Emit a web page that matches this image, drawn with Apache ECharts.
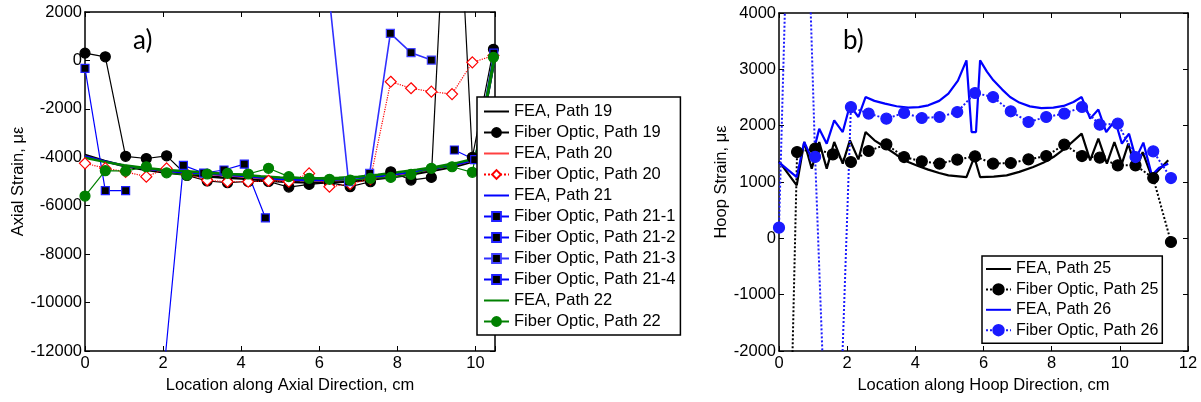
<!DOCTYPE html>
<html><head><meta charset="utf-8">
<script src="https://cdn.jsdelivr.net/npm/echarts@6/dist/echarts.min.js"></script>
<style>html,body{margin:0;padding:0;background:#fff;}#c{width:1201px;height:402px;}</style>
</head><body><div id="c"></div>
<script>
// ---------- Left chart (a) data ----------
const feaX = [0,0.5,1,1.5,2,2.5,3,3.5,4,4.5,5,5.5,6,6.5,7,7.5,8,8.5,9,9.5,10,10.5];
const fea19Y = [-3900,-4150,-4360,-4510,-4620,-4700,-4770,-4830,-4880,-4940,-5000,-5030,-5040,-5020,-4970,-4890,-4790,-4670,-4530,-4370,-4150,150];
const fea20Y = [-3950,-4180,-4350,-4480,-4580,-4650,-4710,-4760,-4810,-4880,-4940,-4970,-4980,-4960,-4910,-4830,-4730,-4610,-4480,-4330,-4120,150];
const fea21Y = [-3960,-4170,-4340,-4460,-4550,-4620,-4670,-4720,-4770,-4840,-4900,-4930,-4940,-4920,-4870,-4790,-4690,-4580,-4450,-4300,-4100,150];
const fea22Y = [-4020,-4190,-4330,-4430,-4510,-4570,-4620,-4670,-4720,-4780,-4830,-4860,-4870,-4850,-4800,-4720,-4620,-4510,-4390,-4240,-4050,150];

const foX = [0,0.52,1.04,1.57,2.09,2.61,3.13,3.65,4.18,4.7,5.22,5.74,6.26,6.79,7.31,7.83,8.35,8.87,9.4,9.92,10.46];
const fo19Y = [300,150,-3960,-4050,-3940,-4750,-4980,-5050,-5000,-5000,-5230,-5120,-5050,-5215,-5010,-4600,-4940,-4830,12300,-4000,460];
const fo20Y = [-4250,-4450,-4600,-4800,-4460,-4700,-4950,-5010,-5010,-4970,-5010,-4665,-5215,-5100,-4900,-880,-1150,-1290,-1390,-80,200];
const fo22Y = [-5600,-4555,-4570,-4390,-4640,-4735,-4690,-4665,-4690,-4455,-4800,-4870,-4910,-4940,-4870,-4830,-4705,-4455,-4390,-4620,128];

const fo21aX = [0,0.52,1.04];
const fo21aY = [-330,-5380,-5380];
const fo21bX = [2.0,2.52,3.04,3.56,4.08,4.62];
const fo21bY = [-13200,-4335,-4650,-4525,-4280,-6500];
const fo21cX = [6.23,6.75,7.29,7.82,8.35,8.87];
const fo21cY = [3000,-5010,-4665,1120,320,15];
const fo21dX = [9.46,9.98,10.47];
const fo21dY = [-3700,-4100,300];

// ---------- Right chart (b) data ----------
const fea25X = [0,0.52,0.74,0.96,1.18,1.4,1.62,1.87,2.08,2.33,2.54,2.8,3.11,3.45,3.79,4.1,4.38,4.7,4.97,5.5,5.73,5.9,6.3,6.68,7.05,7.46,7.75,8.05,8.44,8.88,9.13,9.37,9.62,9.84,10.06,10.25,10.47,10.67,10.94,11.18,11.42];
const fea25Y = [1367,941,1710,1237,1710,1237,1710,1326,1740,1402,1887,1740,1621,1480,1355,1280,1220,1160,1118,1088,1443,1088,1095,1118,1180,1266,1340,1443,1621,1858,1385,1770,1326,1710,1326,1681,1207,1532,1088,1237,1385];
const fea26X = [0,0.52,0.74,0.96,1.18,1.4,1.62,1.87,2.08,2.33,2.54,2.8,3.11,3.45,3.79,4.1,4.38,4.7,4.97,5.25,5.5,5.65,5.78,5.9,6.1,6.29,6.55,6.78,7.05,7.36,7.7,8.05,8.35,8.64,8.88,9.13,9.37,9.6,9.86,10.06,10.27,10.47,10.69,10.94,11.16,11.42];
const fea26Y = [1350,1088,1710,1415,1947,1681,2095,1887,2361,2154,2508,2440,2391,2345,2320,2330,2361,2440,2568,2800,3160,1887,1887,3160,2960,2805,2640,2508,2410,2343,2310,2320,2350,2420,2508,2125,2285,1887,2095,1681,1858,1415,1699,1118,1255,1326];
const fo2X = [0,0.53,1.06,1.58,2.11,2.63,3.15,3.67,4.19,4.71,5.23,5.75,6.28,6.8,7.32,7.84,8.37,8.89,9.41,9.94,10.46,10.98,11.5];
const fo25Y = [-12600,1532,1592,1491,1355,1550,1669,1443,1367,1326,1397,1456,1326,1337,1402,1461,1663,1461,1432,1296,1296,1070,-65];
const fo26Y = [190,12000,1445,-7050,2330,2214,2125,2225,2136,2154,2242,2580,2508,2255,2065,2154,2214,2331,2018,2036,1443,1544,1070];

const xTicksA = [0,2,4,6,8,10];
const namesA = ['FEA, Path 19','Fiber Optic, Path 19','FEA, Path 20','Fiber Optic, Path 20','FEA, Path 21','Fiber Optic, Path 21-1','Fiber Optic, Path 21-2','Fiber Optic, Path 21-3','Fiber Optic, Path 21-4','FEA, Path 22','Fiber Optic, Path 22'];
const namesB = ['FEA, Path 25','Fiber Optic, Path 25','FEA, Path 26','Fiber Optic, Path 26'];

const F = '"Liberation Sans", Arial, sans-serif';
const zip = (xs, ys) => xs.map((x, i) => [x, ys[i]]);

function xAx(grid, min, max, pos, name, labels) {
  return {
    gridIndex: grid, type: 'value', min: min, max: max, interval: 2, position: pos,
    axisLine: {onZero: false, lineStyle: {color: '#000', width: 1.5}},
    axisTick: {inside: true, length: 5, lineStyle: {color: '#000', width: 1}},
    splitLine: {show: false},
    axisLabel: labels ? {show: true, color: '#000', fontSize: 16.5, fontFamily: F, margin: 4,
      formatter: v => (grid === 0 ? (xTicksA.indexOf(v) >= 0 ? String(v) : '') : String(v))} : {show: false},
    name: name || '', nameLocation: 'middle', nameGap: 22,
    nameTextStyle: {color: '#000', fontSize: 16.5, fontFamily: F}
  };
}
function yAx(grid, min, max, itv, pos, name, labels, gap) {
  return {
    gridIndex: grid, type: 'value', min: min, max: max, interval: itv, position: pos,
    axisLine: {onZero: false, lineStyle: {color: '#000', width: 1.5}},
    axisTick: {inside: true, length: 5, lineStyle: {color: '#000', width: 1}},
    splitLine: {show: false},
    axisLabel: labels ? {show: true, color: '#000', fontSize: 16.5, fontFamily: F, margin: 3,
      formatter: v => String(v)} : {show: false},
    name: name || '', nameLocation: 'middle', nameGap: gap || 50,
    nameTextStyle: {color: '#000', fontSize: 16.5, fontFamily: F}
  };
}

function ln(name, data, color, width, type, sym, size, fill, border, xi, yi) {
  return {
    name: name, type: 'line', data: data, xAxisIndex: xi, yAxisIndex: yi,
    symbol: sym || 'none', symbolSize: size || 0, showSymbol: !!sym, clip: true,
    lineStyle: {color: color, width: width, type: type || 'solid'},
    itemStyle: {color: fill || color, borderColor: border || color, borderWidth: sym ? 1.2 : 0},
    emphasis: {disabled: true}, animation: false
  };
}

const series = [
  ln(namesA[0], zip(feaX, fea19Y), '#000000', 2.5, 'solid', null, 0, null, null, 0, 0),
  ln(namesA[1], zip(foX, fo19Y), '#000000', 1.2, 'solid', 'circle', 10, '#000', '#000', 0, 0),
  ln(namesA[2], zip(feaX, fea20Y), '#ff4040', 1.2, 'solid', null, 0, null, null, 0, 0),
  ln(namesA[3], zip(foX, fo20Y), '#ff0000', 1.2, 'dotted', 'diamond', 11, '#ffffff', '#ff0000', 0, 0),
  ln(namesA[4], zip(feaX, fea21Y), '#0000ff', 2.2, 'solid', null, 0, null, null, 0, 0),
  ln(namesA[5], zip(fo21aX, fo21aY), '#0000ff', 1.2, 'solid', 'rect', 8, '#000', '#2020ff', 0, 0),
  ln(namesA[6], zip(fo21bX, fo21bY), '#0000ff', 1.2, 'solid', 'rect', 8, '#000', '#2020ff', 0, 0),
  ln(namesA[7], zip(fo21cX, fo21cY), '#3030ff', 1.6, 'solid', 'rect', 8, '#000', '#4040ff', 0, 0),
  ln(namesA[8], zip(fo21dX, fo21dY), '#0000ff', 1.2, 'solid', 'rect', 8, '#000', '#2020ff', 0, 0),
  ln(namesA[9], zip(feaX, fea22Y), '#008000', 2.5, 'solid', null, 0, null, null, 0, 0),
  ln(namesA[10], zip(foX, fo22Y), '#008000', 1.2, 'solid', 'circle', 10, '#008000', '#008000', 0, 0),

  ln(namesB[0], zip(fea25X, fea25Y), '#000000', 2.2, 'solid', null, 0, null, null, 2, 2),
  ln(namesB[1], zip(fo2X, fo25Y), '#000000', 2, 'dotted', 'circle', 11, '#000', '#000', 2, 2),
  ln(namesB[2], zip(fea26X, fea26Y), '#0000ff', 2.2, 'solid', null, 0, null, null, 2, 2),
  ln(namesB[3], zip(fo2X, fo26Y), '#1a1aff', 2, 'dotted', 'circle', 11, '#1a1aff', '#1a1aff', 2, 2)
];

// legend entries: FEA entries show only their line (default symbol hidden)
const legendItem = (n) => (n.indexOf('FEA') === 0 ? {name: n, itemStyle: {opacity: 0}} : {name: n});

const legendBase = {
  orient: 'vertical', itemWidth: 25,
  borderColor: '#000', borderWidth: 1.5, backgroundColor: '#ffffff',
  selectedMode: false, inactiveColor: '#000'
};

const option = {
  animation: false,
  backgroundColor: '#ffffff',
  grid: [
    {left: 85, top: 12, width: 410, height: 339},
    {left: 779, top: 13, width: 409, height: 338}
  ],
  xAxis: [
    xAx(0, 0, 10.5, 'bottom', 'Location along Axial Direction, cm', true),
    xAx(0, 0, 10.5, 'top', '', false),
    xAx(1, 0, 12, 'bottom', 'Location along Hoop Direction, cm', true),
    xAx(1, 0, 12, 'top', '', false)
  ],
  yAxis: [
    yAx(0, -12000, 2000, 2000, 'left', 'Axial Strain, με', true, 57),
    yAx(0, -12000, 2000, 2000, 'right', '', false),
    yAx(1, -2000, 4000, 1000, 'left', 'Hoop Strain, με', true, 43),
    yAx(1, -2000, 4000, 1000, 'right', '', false)
  ],
  legend: [
    Object.assign({}, legendBase, {data: namesA.map(legendItem), left: 477, top: 97, itemHeight: 11, itemGap: 4, padding: [6, 5, 5, 6],
      textStyle: {color: '#000', fontSize: 16.5, fontFamily: F}}),
    Object.assign({}, legendBase, {data: namesB.map(legendItem), left: 982, top: 256, itemHeight: 13, itemGap: 4.4, padding: [5, 4, 5, 3],
      textStyle: {color: '#000', fontSize: 16, fontFamily: F}})
  ],
  graphic: [
    {type: 'text', left: 133, top: 28, style: {text: 'a)', font: '26px Lato, "Open Sans", sans-serif', fill: '#000'}},
    {type: 'text', left: 843, top: 28, style: {text: 'b)', font: '26px Lato, "Open Sans", sans-serif', fill: '#000'}}
  ],
  series: series
};

const chart = echarts.init(document.getElementById('c'), null, {renderer: 'canvas'});
chart.setOption(option);
</script></body></html>
